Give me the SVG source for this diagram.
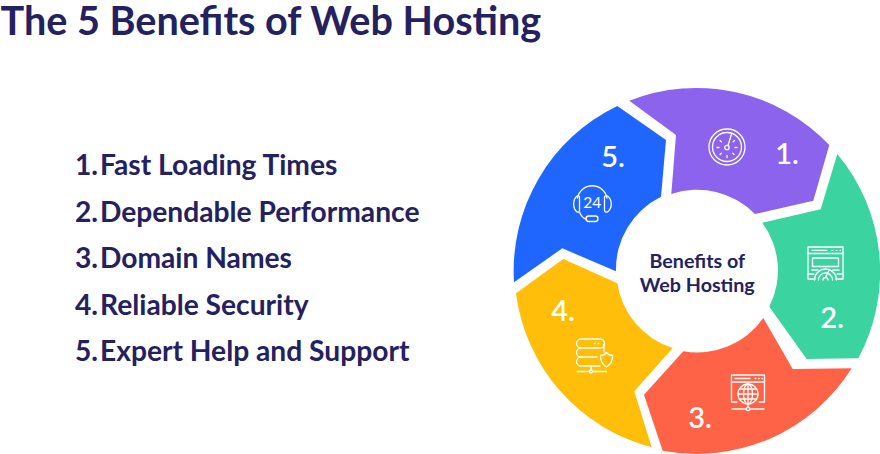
<svg xmlns="http://www.w3.org/2000/svg" width="880" height="454" viewBox="0 0 880 454">
<style>
text{font-family:Lato,"Open Sans","Liberation Sans",sans-serif}
.title{font-size:39.600px;font-weight:700;fill:#24215f}
.item{font-size:28.200px;font-weight:700;fill:#24215f}
.center{font-size:19.700px;font-weight:700;fill:#24215f;text-anchor:middle}
.n{font-size:29px;font-weight:600;fill:#fff;text-anchor:middle}
.ic{fill:none;stroke:#fff;stroke-width:1.300;stroke-linecap:round;stroke-linejoin:round}
</style>
<rect width="880" height="454" fill="#fff"/>
<text class="title" x="0.500" y="34.500">The 5 Benefits of Web Hosting</text>
<g id="list">
<text class="item" x="75" y="175">1.</text><text class="item" x="100" y="175">Fast Loading Times</text>
<text class="item" x="75" y="221.500">2.</text><text class="item" x="100" y="221.500">Dependable Performance</text>
<text class="item" x="75" y="268">3.</text><text class="item" x="100" y="268">Domain Names</text>
<text class="item" x="75" y="314.500">4.</text><text class="item" x="100" y="314.500">Reliable Security</text>
<text class="item" x="75" y="361">5.</text><text class="item" x="100" y="361">Expert Help and Support</text>
</g>
<g id="segment-1">
<path fill="#8b63ec" d="M629.300 100.700A183 183 0 0 1 829.300 145L813.300 200.700L755 214A80.500 80.500 0 0 0 671.300 194L676 135Z"/>
<text class="n" x="787" y="164">1.</text>
<g class="ic"><circle cx="727" cy="147" r="18"/><circle cx="727" cy="147" r="14.500"/><circle cx="727" cy="147.500" r="2.200"/><path d="M728 145.500L731.500 134M717 147.500h2M737 147.500h-2M727 157.500v-2M720 140.500l1.400 1.400M720 154.500l1.400-1.400M734 154.500l-1.400-1.400M734.500 140.500l-1.400 1.400"/></g>
</g>
<g id="segment-2">
<path fill="#3bd3a0" d="M837.300 154A183 183 0 0 1 858.300 358.300L806.700 359L769.300 306.700A80.500 80.500 0 0 0 762.300 222.700L820.700 209.300Z"/>
<text class="n" x="832" y="328">2.</text>
<g class="ic"><path d="M815 279H808V247H843V279H836"/><path d="M808 253.500H843M812 250.300H827"/><path d="M832 250.300h1M836 250.300h1M840 250.300h.5"/><rect x="812.500" y="258" width="26" height="8.500"/><path d="M812 270H818M833 270H839M808 274H814M837 274H843"/><path d="M814.500 280A11 11 0 0 1 836.500 280M818.500 280A7 7 0 0 1 832.500 280M823 280A2.500 2.500 0 0 1 828 280M825.500 277.500L829 270.500"/></g>
</g>
<g id="segment-3">
<path fill="#ff6347" d="M851.700 368.300A183 183 0 0 1 662.700 450.700L644 394.700L683.300 351.300A80.500 80.500 0 0 0 763.300 318L792.700 369Z"/>
<text class="n" x="700" y="428">3.</text>
<g class="ic"><path d="M737 402H731.500V375H764.500V402H759"/><path d="M731.500 382H764.500M735 378.500H750"/><path d="M755 378.500h1M758.500 378.500h1M762 378.500h.5"/><circle cx="748" cy="394" r="10"/><ellipse cx="748" cy="394" rx="4.500" ry="10"/><path d="M748 384V404M738 394H758M739.500 389H756.500M739.500 399H756.500M748 404V407"/><circle cx="748" cy="409" r="1.700"/><path d="M732 409H746M750 409H764"/></g>
</g>
<g id="segment-4">
<path fill="#ffbe0a" d="M651.700 447.300A183 183 0 0 1 516 293.300L563.300 259L617.300 283.300A80.500 80.500 0 0 0 672.700 348L634.300 391.300Z"/>
<text class="n" x="563" y="321">4.</text>
<g class="ic"><path d="M581 348H600A4.500 4.500 0 0 0 600 339H581A4.500 4.500 0 0 0 581 348A4.500 4.500 0 0 0 581 357H597M581 357A4.500 4.500 0 0 0 581 366H600"/><path d="M604 344V352"/><path d="M594 343.500h1M598 343.500h1"/><path d="M600.500 355.500C600.500 362 603 365 606.500 367C610 365 612.700 362 612.700 355.500C610 355.500 608 354.500 606.500 352.500C605 354.500 603 355.500 600.500 355.500Z"/><path d="M591 366V370"/><path d="M577 371.500H589.500M592.500 371.500H606.500"/><circle cx="591" cy="371.500" r="1.500"/></g>
</g>
<g id="segment-5">
<path fill="#1f66ff" d="M514 282.300A183 183 0 0 1 617.300 106L666 140L661 196.700A80.500 80.500 0 0 0 616 271.300L562.300 248.300Z"/>
<text class="n" x="613" y="167">5.</text>
<g class="ic"><path d="M577.500 198A15 15 0 0 1 607 198"/><path d="M577 196C572.500 200 572.500 208 577 212C578.500 212.500 579.500 212 579.500 210V197C579.500 196 578 195.500 577 196ZM607.500 196C612.500 200 612.500 208 607.500 212C606 212.500 604.500 212 604.500 210V197C604.500 196 606.500 195.500 607.500 196Z"/><path d="M579.500 212C581 216 583 218.500 586.500 219"/><rect x="586" y="216" width="12" height="5.500" rx="2.700"/></g>
<text x="592.300" y="207.500" font-size="15.500" fill="#fff" text-anchor="middle" font-weight="400">24</text>
</g>
<g id="center"><text class="center" x="697.300" y="268">Benefits of</text><text class="center" x="697.300" y="292">Web Hosting</text></g>
</svg>
